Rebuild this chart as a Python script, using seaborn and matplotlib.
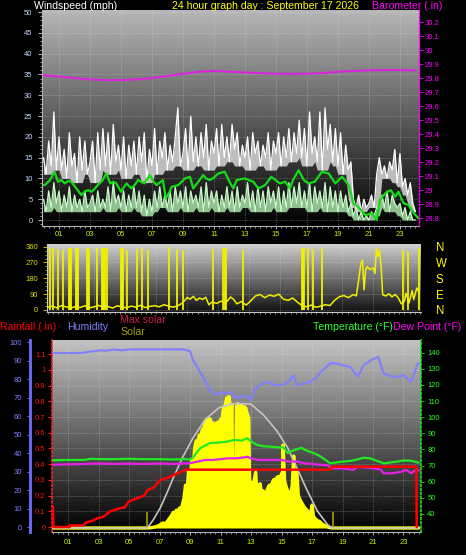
import numpy as np
import pandas as pd
import matplotlib
matplotlib.use("Agg")
import matplotlib.pyplot as plt
import seaborn as sns
from matplotlib.colors import LinearSegmentedColormap
from matplotlib.ticker import MultipleLocator, FixedLocator, FuncFormatter

sns.set_theme(style="ticks", rc={"figure.facecolor": "black", "savefig.facecolor": "black",
                                 "axes.facecolor": "black", "axes.grid": False})
plt.rcParams["font.family"] = ["Liberation Sans", "DejaVu Sans"]

# ---------------------------------------------------------------- DATA
title = "24 hour graph day : September 17 2026"
hour_ticks = [1, 3, 5, 7, 9, 11, 13, 15, 17, 19, 21, 23]
hour_labels = ["01", "03", "05", "07", "09", "11", "13", "15", "17", "19", "21", "23"]

# wind, 10-minute samples (hours)
wind_t = np.arange(145) / 6.0
gust_mph = [15, 11, 19, 13, 26, 12,
            20, 12, 17, 10, 21, 13,
            16, 9, 20, 12, 19, 11,
            14, 19, 9, 21, 12, 22,
            13, 21, 11, 23, 14, 18,
            12, 20, 10, 18, 13, 19,
            11, 20, 14, 21, 9, 17,
            13, 22, 11, 19, 15, 21,
            12, 18, 14, 20, 27, 13,
            16, 22, 12, 25, 14, 20,
            13, 21, 15, 23, 12, 19,
            16, 22, 13, 23, 15, 20,
            14, 23, 17, 21, 13, 18,
            15, 20, 12, 21, 16, 19,
            13, 18, 15, 21, 12, 19,
            16, 21, 13, 20, 15, 22,
            14, 21, 16, 24, 15, 22,
            13, 26, 16, 20, 14, 26,
            12, 27, 17, 23, 14, 22,
            13, 21, 11, 18, 12, 14,
            5, 3, 6, 2, 5, 3,
            4, 6, 3, 11, 15, 11,
            13, 10, 14, 12, 17, 9,
            16, 8, 10, 6, 9, 4,
            2]
speed_mph = [5, 2, 7, 3, 9, 4,
             7, 2, 6, 3, 8, 2,
             6, 3, 5, 2, 7, 3,
             4, 6, 2, 7, 3, 5,
             3, 8, 2, 9, 4, 6,
             3, 7, 2, 6, 3, 8,
             3, 7, 2, 6, 1, 5,
             2, 7, 3, 8, 3, 6,
             3, 7, 2, 8, 4, 7,
             3, 8, 2, 7, 4, 6,
             3, 8, 2, 9, 3, 7,
             4, 7, 2, 6, 3, 8,
             3, 7, 2, 8, 3, 6,
             4, 9, 3, 7, 2, 8,
             3, 7, 2, 8, 4, 7,
             3, 8, 2, 7, 3, 9,
             3, 8, 4, 9, 3, 7,
             3, 9, 2, 8, 4, 7,
             3, 9, 2, 8, 3, 7,
             2, 7, 3, 6, 2, 4,
             1, 3, 0, 2, 0, 1,
             0, 2, 1, 3, 4, 6,
             3, 7, 2, 6, 4, 3,
             4, 1, 3, 0, 2, 0,
             0]
avg_t = [0.0, 0.08, 0.4, 0.72, 0.93, 1.15, 1.37, 1.6, 1.8, 2.0, 2.2, 2.44, 2.65, 2.87, 3.1,
         3.3, 3.5, 3.8, 4.05, 4.3, 4.5, 4.7, 5.0, 5.35, 5.66, 5.9, 6.1, 6.5, 6.85, 7.1, 7.3,
         7.5, 7.7, 7.9, 8.1, 8.27, 8.5, 8.7, 9.13, 9.45, 9.66, 9.99, 10.3, 10.5, 10.73, 11.0,
         11.28, 11.7, 12.0, 12.25, 12.46, 12.7, 13.0, 13.25, 13.54, 13.86, 14.1, 14.3, 14.7,
         15.0, 15.26, 15.6, 15.9, 16.1, 16.46, 16.8, 17.1, 17.5, 17.97, 18.4, 18.83, 19.26,
         19.7, 20.0, 20.3, 20.76, 21.2, 21.5, 21.7, 22.05, 22.4, 22.7, 22.9, 23.24, 23.56,
         23.9, 24.2]
avg_mph = [8.4, 8.4, 9.5, 11.6, 9.2, 9.6, 8.8, 9.4, 9.2, 8.2, 7.2, 6.0, 6.8, 7.2, 6.8,
           7.5, 8.4, 9.5, 11.2, 8.8, 9.2, 8.8, 6.8, 8.8, 7.6, 8.5, 9.6, 8.8, 10.8, 9.2, 8.4,
           9.0, 9.6, 5.2, 6.5, 8.0, 8.2, 8.4, 10.0, 10.4, 7.6, 9.2, 10.8, 10.0, 9.6, 10.2,
           11.2, 11.6, 9.2, 7.6, 9.6, 9.8, 10.0, 9.6, 9.2, 7.6, 8.0, 8.4, 10.4,
           9.5, 8.8, 9.2, 7.6, 9.6, 12.0, 9.6, 8.8, 9.2, 11.6, 11.2, 8.8, 10.4,
           8.4, 4.0, 3.2, 1.2, 1.6, 0.0, 4.8, 6.4, 7.2, 5.6, 6.8, 4.0, 3.6,
           1.6, 0.4]
baro_t = list(range(25))
baro_in = [29.82, 29.81, 29.80, 29.79, 29.785, 29.785, 29.79, 29.80, 29.815, 29.83, 29.845,
           29.85, 29.845, 29.84, 29.835, 29.83, 29.83, 29.83, 29.835, 29.845, 29.85, 29.855,
           29.857, 29.857, 29.855]

# wind direction
dir_t = [0.0, 0.3, 0.6, 0.9, 1.2, 1.5, 1.8, 2.1, 2.4, 2.7, 3.0, 3.3, 3.6, 3.9, 4.2, 4.5, 4.8,
         5.1, 5.4, 5.7, 6.0, 6.3, 6.6, 6.9, 7.2, 7.5, 7.8, 8.1, 8.4,
         8.7, 9.0, 9.2, 9.4, 9.6, 9.8, 10.0, 10.2, 10.4, 10.6, 10.9, 11.2, 11.5, 11.8, 12.0,
         12.2, 12.5, 12.8, 13.1, 13.4, 13.7, 14.0, 14.3, 14.6, 14.9, 15.2, 15.5, 15.8, 16.1,
         16.4, 16.7, 17.0, 17.3, 17.6, 17.9, 18.2, 18.5, 18.8, 19.1, 19.4, 19.7, 19.9,
         20.05, 20.2, 20.3, 20.4, 20.5, 20.6, 20.8, 21.0, 21.1, 21.2, 21.3, 21.4, 21.5, 21.6,
         21.8, 22.0, 22.2, 22.4, 22.6, 22.8, 23.0, 23.1, 23.3, 23.5, 23.6, 23.8, 23.95]
dir_deg = [15, 22, 12, 25, 18, 10, 20, 14, 24, 12, 18, 26, 15, 20, 11, 24, 17, 13, 22, 16,
           27, 14, 20, 25, 18, 30, 22, 16, 24,
           40, 70, 62, 78, 55, 68, 60, 72, 30, 45, 38, 50, 42, 74, 60, 35, 48, 28, 52, 80,
           88, 70, 85, 78, 90, 62, 55, 68, 45, 25, 18, 28, 15, 22, 30, 25, 55, 75, 82, 70,
           88, 80,
           170, 265, 284, 114, 227, 246, 230, 240, 208, 350, 303, 341, 246, 87, 80, 92, 75,
           88, 70, 35, 50, 95, 40, 110, 60, 125, 100]
spike_t = [0.16, 0.33, 0.7, 1.02, 1.38, 1.45, 1.51, 1.84, 1.92, 1.99, 2.57, 2.64, 2.7, 3.17,
           3.49, 3.57, 3.64, 3.72, 3.81, 4.71, 4.78, 4.84, 5.14, 5.75, 6.07, 6.5, 7.83, 8.32,
           8.75, 10.68, 11.33, 11.42, 11.5, 12.62, 16.38, 16.46, 16.53, 16.8, 17.13, 17.67,
           22.93, 23.25, 23.96]
spike_deg = [355, 350, 345, 340, 355, 352, 355, 350, 355, 352, 350, 355, 345, 350, 355, 350,
             352, 355, 350, 352, 355, 350, 340, 345, 350, 340, 358, 345, 340, 345, 350, 355,
             350, 340, 355, 352, 355, 350, 345, 355, 340, 335, 355]
compass_deg = [0, 90, 180, 270, 360]
compass_lbl = ["N", "E", "S", "W", "N"]

# lower panel
rain_t = [0.0, 0.03, 0.06, 1.1, 1.12, 2.0, 2.2, 2.6, 2.9, 3.3, 3.76, 4.1, 4.4, 4.7, 4.96, 5.3,
          5.7, 6.0, 6.2, 6.6, 7.05, 7.4, 7.7, 8.1, 8.4, 8.7, 18.2, 18.3, 23.85, 23.87]
rain_in = [0.13, 0.0, 0.0, 0.0, 0.01, 0.01, 0.03, 0.04, 0.055, 0.065, 0.1, 0.11, 0.12, 0.125,
           0.16, 0.175, 0.19, 0.2, 0.235, 0.25, 0.3, 0.31, 0.32, 0.34, 0.35, 0.365, 0.365,
           0.384, 0.384, 0.0]
hum_t = [0, 1.0, 1.8, 2.2, 2.6, 3.1, 3.5, 4.0, 4.5, 5.0, 6.0, 7.0, 8.0, 8.6, 9.0, 9.2, 9.5,
         9.7, 10.0, 10.3, 10.6, 10.8, 11.1, 11.4, 11.7, 11.9, 12.1, 12.4, 12.75, 12.97, 13.2,
         13.6, 14.07, 14.5, 15.1, 15.5, 15.8, 16.0, 16.5, 16.9, 17.3, 17.6, 18.2, 18.6, 18.9,
         19.5, 20.0, 20.4, 20.9, 21.35, 21.7, 22.0, 22.4, 23.0, 23.3, 23.5, 23.9, 24.0]
hum_pct = [94, 94, 94, 94.5, 95, 95.5, 95.3, 96, 95.5, 96, 96, 96, 96, 96, 95, 90, 86, 83, 79,
           74, 72, 71.5, 73, 72.3, 73, 70.4, 69.7, 71, 70.4, 68.6, 74, 77, 78.5, 76.8, 76.8,
           79, 82, 76.8, 77.5, 78.5, 81, 84, 88.5, 88.5, 87.6, 86.6, 81.2, 87.6, 90.3, 92, 83,
           82, 81, 82, 80, 78.5, 87.6, 88.6]
temp_t = [0, 1, 2, 2.5, 3, 4, 5, 6, 7, 8, 8.6, 9.0, 9.2, 9.5, 9.7, 10.0, 10.3, 10.8, 11.4,
          11.9, 12.4, 12.75, 13.0, 13.4, 13.8, 14.3, 14.9, 15.1, 15.4, 15.8, 16.3, 16.6, 17.1,
          17.5, 17.8, 18.2, 18.6, 19.1, 19.6, 20.0, 20.4, 20.8, 21.1, 21.7, 22.2, 22.6, 23.0,
          23.5, 24.0]
temp_f = [73.3, 73.5, 73.5, 74.2, 74, 74, 74.2, 74, 74, 73.8, 74, 73.8, 75, 79, 81, 82.5, 84,
          84.2, 84.8, 85.9, 85.5, 87, 85, 82.8, 82, 81.7, 81.2, 81.5, 77.8, 79.5, 81, 79.5,
          77.8, 76, 74, 71.4, 72, 72.5, 73, 73.9, 74.9, 74.5, 73.5, 71.4, 72, 72.5, 73.2, 73,
          71.8]
dew_t = [0, 1, 2, 3, 4, 5, 6, 7, 8, 9, 9.5, 10, 10.5, 11, 11.5, 12, 12.5, 12.75, 13.0, 13.5,
         14, 15, 15.5, 16, 16.5, 17, 17.5, 18.0, 18.3, 19, 19.7, 20.0, 20.5, 21.1, 21.5, 21.7,
         22.2, 22.8, 23.2, 23.5, 23.8, 24]
dew_f = [70.5, 70.8, 71, 71.3, 71, 71.2, 71, 71.3, 71, 71.5, 72.5, 73.5, 73.5, 74, 74.5, 74.5,
         75, 75.5, 74.5, 73.5, 73.5, 73.5, 72.5, 72.5, 71.4, 71, 70.5, 70.3, 68.3, 68.3, 67.3,
         69.3, 68.8, 68.3, 67.5, 65.2, 65.2, 66, 67.3, 65.2, 67.3, 67]
solar_t = [0.0, 6.2, 6.5, 6.8, 7.0, 7.2, 7.4, 7.6, 7.8, 7.9, 8.0, 8.1, 8.2, 8.3, 8.4, 8.5, 8.6,
           8.7, 8.8, 8.9, 9.0, 9.1, 9.2, 9.3, 9.4, 9.5, 9.6, 9.7, 9.8, 9.9, 10.0, 10.1, 10.2,
           10.3, 10.4, 10.5, 10.6, 10.7, 10.8, 10.9, 11.0, 11.1, 11.2, 11.3, 11.4, 11.5, 11.55,
           11.65, 11.75, 11.8, 11.95, 12.05, 12.15, 12.25, 12.35, 12.45, 12.55, 12.65, 12.75,
           12.85, 12.92, 13.0, 13.1, 13.2, 13.3, 13.4, 13.5, 13.6, 13.7, 13.8, 13.9, 14.0,
           14.1, 14.2, 14.3, 14.4, 14.5, 14.6, 14.7, 14.8, 14.9, 15.0, 15.05, 15.1, 15.2,
           15.3, 15.4, 15.5, 15.6, 15.7, 15.8, 15.85, 15.9, 16.0, 16.1, 16.2, 16.3, 16.5,
           16.7, 16.9, 17.0, 17.1, 17.3, 17.5, 17.7, 17.9, 18.1, 18.3, 24.0]
solar_wm2 = [0, 0, 3, 10, 20, 35, 30, 60, 90, 110, 75, 125, 95, 140, 120, 165, 210, 300, 260,
             400, 300, 470, 420, 560, 610, 590, 650, 640, 690, 700, 740, 760, 745, 765, 740,
             725, 735, 720, 740, 735, 760, 770, 840, 860, 910, 880, 920, 830, 860, 150, 120,
             850, 870, 830, 860, 820, 850, 840, 800, 770, 140, 320, 180, 330, 390, 235, 300,
             310, 230, 260, 210, 250, 280, 300, 290, 320, 340, 330, 355, 360, 340, 380, 300,
             580, 330, 290, 260, 200, 240, 300, 504, 320, 300, 399, 230, 200, 180, 145, 120,
             95, 160, 80, 55, 45, 25, 15, 5, 0, 0]
maxsol_t = [0.0, 6.2, 6.6, 7.05, 7.5, 7.9, 8.5, 9.2, 10.0, 10.9, 11.8, 12.5, 13.0, 13.8,
            14.7, 15.4, 16.0, 16.7, 17.35, 18.0, 18.3, 24.0]
maxsol_wm2 = [0, 0, 60, 142, 250, 352, 492, 632, 761, 842, 870, 870, 866, 793, 679, 562, 422,
              259, 119, 26, 0, 0]
sunmark_t = [6.2, 18.35]
sunmark_wm2 = [115, 115]

# ---------------------------------------------------------------- FIGURE
W, H = 466.0, 555.0
fig = plt.figure(figsize=(W / 100, H / 100), dpi=100)
fig.patch.set_facecolor("black")
FS = 5.5
TXT = 7.6
DOT = (0, (1, 1.5))
PX = 0.72  # points per pixel


def add_axes_px(left, top, right, bottom):
    return fig.add_axes([left / W, 1 - bottom / H, (right - left) / W, (bottom - top) / H])


def paint_gradient(ax, top_col, bottom_col):
    cmap = LinearSegmentedColormap.from_list("bg", [bottom_col, top_col])
    ax.imshow(np.linspace(1, 0, 256).reshape(-1, 1), extent=[0, 1, 0, 1],
              transform=ax.transAxes, cmap=cmap, vmin=0, vmax=1, aspect="auto",
              interpolation="bilinear", zorder=0)


def fmt_num(v, pos=None):
    s = f"{v:.1f}"
    return s[:-2] if s.endswith(".0") else s


def hide_spines(ax, keep=()):
    for k, s in ax.spines.items():
        s.set_visible(k in keep)


def clear_labels(ax):
    ax.set_xlabel("")
    ax.set_ylabel("")


# ---------------- panel 1 : wind + barometer
ax1 = add_axes_px(42, 10, 419, 226)
paint_gradient(ax1, "#b8b8b8", "#000000")
wind = pd.DataFrame({"t": wind_t, "gust": gust_mph, "speed": speed_mph})
gust_floor = wind["gust"].rolling(5, center=True, min_periods=1).min()
speed_floor = wind["speed"].rolling(5, center=True, min_periods=1).min()
ax1.fill_between(wind["t"], gust_floor, wind["gust"], color="#cdcdcd", lw=0, alpha=0.9, zorder=2)
sns.lineplot(data=wind, x="t", y="gust", ax=ax1, color="#ffffff", lw=0.9, zorder=3)
ax1.fill_between(wind["t"], speed_floor, wind["speed"], color="#9fd59f", lw=0, alpha=0.9, zorder=3)
sns.lineplot(data=wind, x="t", y="speed", ax=ax1, color="#cbfbcb", lw=0.9, zorder=4)
sns.lineplot(x=avg_t, y=avg_mph, ax=ax1, color="#14dc14", lw=1.6, zorder=5)
ax1.set_xlim(-0.097, 24.23)
ax1.set_ylim(-1.44, 50.5)
ax1.yaxis.set_major_locator(MultipleLocator(5))
ax1.yaxis.set_minor_locator(MultipleLocator(1))
ax1.set_xticks(hour_ticks, hour_labels)
ax1.xaxis.set_minor_locator(MultipleLocator(1 / 3))
ax1.tick_params(axis="x", which="major", length=3 * PX, width=0.6, color="#c8c8c8",
                labelcolor="#d0ee00", labelsize=FS, pad=1.5)
ax1.tick_params(axis="x", which="minor", length=2 * PX, width=0.5, color="#c8c8c8")
ax1.tick_params(axis="y", which="major", length=4.5 * PX, width=0.6, color="#d8d8d8",
                labelcolor="#c8dcff", labelsize=FS, pad=3.6)
ax1.tick_params(axis="y", which="minor", length=2.5 * PX, width=0.5, color="#d8d8d8")
ax1.grid(which="major", color="#e8e8e8", ls=DOT, lw=0.5, alpha=0.5)
hide_spines(ax1, keep=("left", "bottom"))
for k in ("left", "bottom"):
    ax1.spines[k].set_color("#b4b4b4")
    ax1.spines[k].set_linewidth(0.8)
clear_labels(ax1)

ax1b = ax1.twinx()
sns.lineplot(x=baro_t, y=baro_in, ax=ax1b, color="#e020e0", lw=1.4, zorder=5)
ax1b.set_ylim(28.743, 30.286)
ax1b.yaxis.set_major_locator(FixedLocator(np.round(np.arange(28.8, 30.25, 0.1), 1)))
ax1b.yaxis.set_major_formatter(FuncFormatter(fmt_num))
ax1b.tick_params(axis="y", which="major", length=3.5 * PX, width=0.6, color="#ff00ff",
                 labelcolor="#ff00ff", labelsize=FS, pad=1.8)
hide_spines(ax1b, keep=("right",))
ax1b.spines["right"].set_color("#ff00ff")
ax1b.spines["right"].set_linestyle(DOT)
ax1b.spines["right"].set_linewidth(1.0)
clear_labels(ax1b)
ax1.set_xlim(-0.097, 24.23)

fig.text(34 / W, 1 - 6 / H, "Windspeed (mph)", color="white", fontsize=TXT,
         ha="left", va="center")
fig.text(266 / W, 1 - 6 / H, title, color="#ffff00", fontsize=TXT, ha="center", va="center")
fig.text(372 / W, 1 - 6 / H, "Barometer (.in)", color="#ff00ff", fontsize=TXT,
         ha="left", va="center")

# ---------------- panel 2 : wind direction
ax2 = add_axes_px(47.3, 244, 421, 312)
paint_gradient(ax2, "#d0d0d0", "#101010")
sns.lineplot(x=dir_t, y=dir_deg, ax=ax2, color="#f0f000", lw=1.1, zorder=3)
ax2.vlines(spike_t, 0, spike_deg, color="#f0f000", lw=1.3, zorder=3)
ax2.set_xlim(-0.013, 24.07)
ax2.set_ylim(-11.4, 375)
ax2.set_yticks(compass_deg)
ax2.yaxis.set_minor_locator(MultipleLocator(22.5))
ax2.set_xticks(hour_ticks)
ax2.set_xticklabels([])
ax2.xaxis.set_minor_locator(MultipleLocator(1 / 3))
ax2.tick_params(axis="y", which="major", length=4 * PX, width=0.6, color="#e0e000",
                labelcolor="#dde000", labelsize=FS, pad=3.9)
ax2.tick_params(axis="y", which="minor", length=2.5 * PX, width=0.5, color="#e0e000")
ax2.tick_params(axis="x", which="both", length=2 * PX, width=0.5, color="#c8c8a0")
ax2.grid(which="major", color="#e8e8e8", ls=DOT, lw=0.5, alpha=0.5)
hide_spines(ax2, keep=("left", "bottom"))
for k in ("left", "bottom"):
    ax2.spines[k].set_color("#c8c8c8")
    ax2.spines[k].set_linewidth(0.8)
clear_labels(ax2)

ax2r = ax2.twinx()
ax2r.set_ylim(-11.4, 375)
ax2r.set_yticks(compass_deg, compass_lbl)
ax2r.tick_params(axis="y", length=0, pad=10.8, labelcolor="#ffff00", labelsize=8.3)
hide_spines(ax2r)
ax2.set_xlim(-0.013, 24.07)

# ---------------- panel 3 : rain, humidity, solar, temperature, dew point
ax3 = add_axes_px(52, 340, 421, 532)
paint_gradient(ax3, "#c4c4c4", "#000000")
ax3.set_ylim(-0.0318, 1.191)
ax3.yaxis.set_major_locator(FixedLocator(np.round(np.arange(0, 1.15, 0.1), 1)))
ax3.yaxis.set_major_formatter(FuncFormatter(fmt_num))
ax3.set_xticks(hour_ticks, hour_labels)
ax3.xaxis.set_minor_locator(MultipleLocator(1 / 3))
ax3.tick_params(axis="x", which="major", length=3 * PX, width=0.6, color="#c8c8c8",
                labelcolor="#d0ee00", labelsize=FS, pad=3.0)
ax3.tick_params(axis="x", which="minor", length=2 * PX, width=0.5, color="#c8c8c8")
ax3.tick_params(axis="y", which="major", length=4 * PX, width=0.7, color="#ff2020",
                labelcolor="#ff1010", labelsize=FS, pad=1.7)
ax3.grid(which="major", color="#e8e8e8", ls=DOT, lw=0.5, alpha=0.5)
hide_spines(ax3, keep=("left", "bottom"))
ax3.spines["left"].set_color("#ff2020")
ax3.spines["left"].set_linestyle(DOT)
ax3.spines["left"].set_linewidth(1.2)
ax3.spines["bottom"].set_color("#b4b4b4")
ax3.spines["bottom"].set_linewidth(0.8)
clear_labels(ax3)

# solar (hidden scale)
ax_s = ax3.twinx()
ax_s.set_axis_off()
ax_s.fill_between(solar_t, 0, solar_wm2, color="#ffff00", lw=0, zorder=2)
sns.lineplot(x=solar_t, y=solar_wm2, ax=ax_s, color="#ffff00", lw=2.4, zorder=2)
ax_s.vlines(sunmark_t, 0, sunmark_wm2, color="#a8a000", lw=1.2, zorder=3)
sns.lineplot(x=maxsol_t, y=maxsol_wm2, ax=ax_s, color="#c4c4c4", lw=1.2, zorder=3)
ax_s.set_ylim(-28, 1316)

# humidity
ax_h = ax3.twinx()
sns.lineplot(x=hum_t, y=hum_pct, ax=ax_h, color="#8080ff", lw=1.5, zorder=4)
ax_h.set_ylim(-2.7, 101.1)
ax_h.yaxis.tick_left()
ax_h.yaxis.set_label_position("left")
ax_h.set_yticks(np.arange(0, 101, 10))
hide_spines(ax_h, keep=("left",))
ax_h.spines["left"].set_position(("axes", (30 - 52) / 368.0))
ax_h.spines["left"].set_color("#7070ff")
ax_h.spines["left"].set_linewidth(2.0)
ax_h.tick_params(axis="y", length=3 * PX, width=0.6, color="#8080ff",
                 labelcolor="#8080ff", labelsize=FS, pad=3.6)
clear_labels(ax_h)

# temperature & dew point
ax_t = ax3.twinx()
sns.lineplot(x=temp_t, y=temp_f, ax=ax_t, color="#22e822", lw=1.6, zorder=5)
sns.lineplot(x=dew_t, y=dew_f, ax=ax_t, color="#e422e4", lw=1.6, zorder=5)
ax_t.set_ylim(28.8, 147.9)
ax_t.set_yticks(np.arange(40, 141, 10))
hide_spines(ax_t, keep=("right",))
ax_t.spines["right"].set_color("#20e020")
ax_t.spines["right"].set_linestyle(DOT)
ax_t.spines["right"].set_linewidth(1.2)
ax_t.tick_params(axis="y", length=3 * PX, width=0.6, color="#20e020",
                 labelcolor="#20ff20", labelsize=FS, pad=2.4)
clear_labels(ax_t)

# rain on top
ax_r = ax3.twinx()
ax_r.set_axis_off()
sns.lineplot(x=rain_t, y=rain_in, ax=ax_r, color="#ff0000", lw=1.8, zorder=6)
ax_r.set_ylim(-0.0318, 1.191)
ax3.set_xlim(-0.06, 24.15)

fig.text(0 / W, 1 - 327 / H, "Rainfall (.in)", color="#ff0000", fontsize=TXT, ha="left", va="center")
fig.text(67 / W, 1 - 327 / H, "Humidity", color="#8080ff", fontsize=TXT, ha="left", va="center")
fig.text(120 / W, 1 - 320 / H, "Max solar", color="#c81e46", fontsize=TXT, ha="left", va="center")
fig.text(120 / W, 1 - 332 / H, "Solar", color="#a0a000", fontsize=TXT, ha="left", va="center")
fig.text(313 / W, 1 - 327 / H, "Temperature (°F)", color="#30ff30", fontsize=TXT, ha="left", va="center")
fig.text(393 / W, 1 - 327 / H, "Dew Point (°F)", color="#ff00ff", fontsize=TXT, ha="left", va="center")

fig.savefig("out.png", dpi=100, facecolor="black")
